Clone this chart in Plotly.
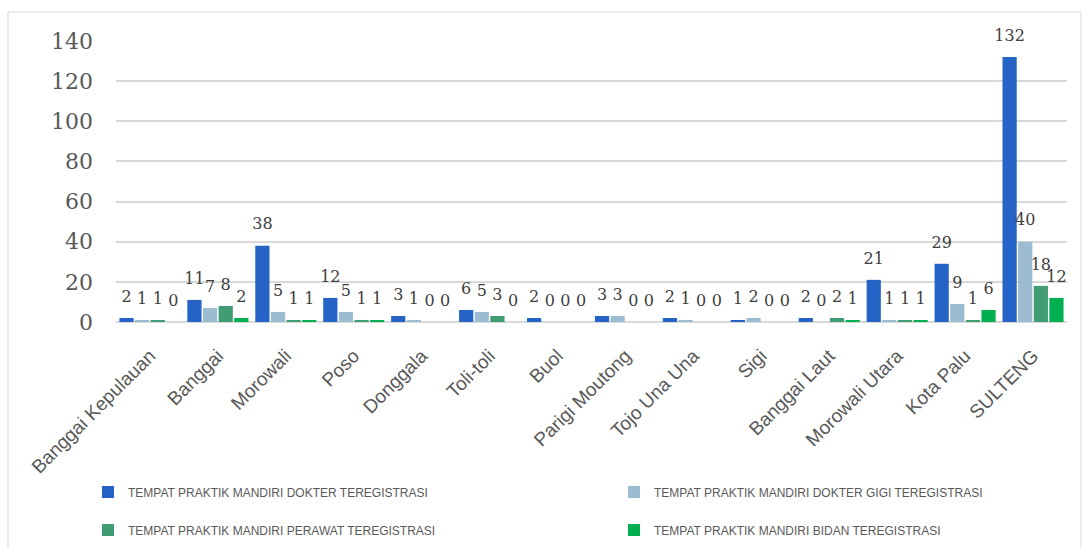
import plotly.graph_objects as go

categories = ["Banggai Kepulauan", "Banggai", "Morowali", "Poso", "Donggala", "Toli-toli",
              "Buol", "Parigi Moutong", "Tojo Una Una", "Sigi", "Banggai Laut",
              "Morowali Utara", "Kota Palu", "SULTENG"]
dokter = [2, 11, 38, 12, 3, 6, 2, 3, 2, 1, 2, 21, 29, 132]
dokter_gigi = [1, 7, 5, 5, 1, 5, 0, 3, 1, 2, 0, 1, 9, 40]
perawat = [1, 8, 1, 1, 0, 3, 0, 0, 0, 0, 2, 1, 1, 18]
bidan = [0, 2, 1, 1, 0, 0, 0, 0, 0, 0, 1, 1, 6, 12]
series_names = ["TEMPAT PRAKTIK MANDIRI DOKTER TEREGISTRASI",
                "TEMPAT PRAKTIK MANDIRI DOKTER GIGI TEREGISTRASI",
                "TEMPAT PRAKTIK MANDIRI PERAWAT TEREGISTRASI",
                "TEMPAT PRAKTIK MANDIRI BIDAN TEREGISTRASI"]
y_ticks = [0, 20, 40, 60, 80, 100, 120, 140]

colors = ["#2563C6", "#9BBCD1", "#419B73", "#00B050"]
legend_ids = ["legend", "legend2", "legend3", "legend4"]

L, R, T, B = 116, 22, 41, 226
W, H = 1089, 548
pw, ph = W - L - R, H - T - B

def px_x(px):
    return (px - L) / pw

def px_y(py):
    return (H - B - py) / ph

fig = go.Figure()
all_series = [dokter, dokter_gigi, perawat, bidan]
for i, (name, vals, col, lg) in enumerate(zip(series_names, all_series, colors, legend_ids)):
    fig.add_trace(go.Bar(
        x=categories, y=vals, name=name, marker_color=col, marker_line_width=0,
        offsetgroup=str(i), legend=lg,
    ))
for i, vals in enumerate(all_series):
    fig.add_trace(go.Scatter(
        x=categories, y=vals, mode="markers+text", text=[str(v) for v in vals],
        textposition="top center", marker=dict(size=18, opacity=0, color="white"),
        textfont=dict(family="DejaVu Serif", size=16, color="#404040"),
        offsetgroup=str(i), showlegend=False, hoverinfo="skip", cliponaxis=False,
    ))

legend_font = dict(family="Liberation Sans", size=12, color="#595959")
legend_pos = {"legend": (88, 492), "legend2": (614, 492), "legend3": (88, 530), "legend4": (614, 530)}
legend_layout = {}
for lg, (lx, ly) in legend_pos.items():
    legend_layout[lg] = dict(orientation="h", xref="container", yref="container",
                             x=lx / W, y=(H - ly) / H, xanchor="left", yanchor="middle",
                             itemwidth=30, font=legend_font, bgcolor="rgba(0,0,0,0)")

fig.update_layout(
    width=W, height=H,
    margin=dict(l=L, r=R, t=T, b=B, pad=0),
    paper_bgcolor="white", plot_bgcolor="white",
    barmode="group", bargap=0.08, bargroupgap=0.09,
    scattermode="group", scattergap=0.08,
    xaxis=dict(tickangle=-45, tickfont=dict(family="Liberation Sans", size=19, color="#595959"),
               showgrid=False, showline=False, ticks="", ticklabelstandoff=18, automargin=False),
    yaxis=dict(range=[0, 140], tickvals=y_ticks, showgrid=True, gridcolor="#D9D9D9", gridwidth=1.5,
               zeroline=True, zerolinecolor="#D9D9D9", zerolinewidth=1.5, automargin=False,
               tickfont=dict(family="DejaVu Serif", size=22, color="#595959"), ticklabelstandoff=22),
    showlegend=True,
    shapes=[dict(type="rect", xref="paper", yref="paper",
                 x0=px_x(8), x1=px_x(1081), y0=px_y(600), y1=px_y(12),
                 line=dict(color="#D9D9D9", width=1), fillcolor="rgba(0,0,0,0)", layer="below")],
    **legend_layout,
)

fig.write_html("out.html")
